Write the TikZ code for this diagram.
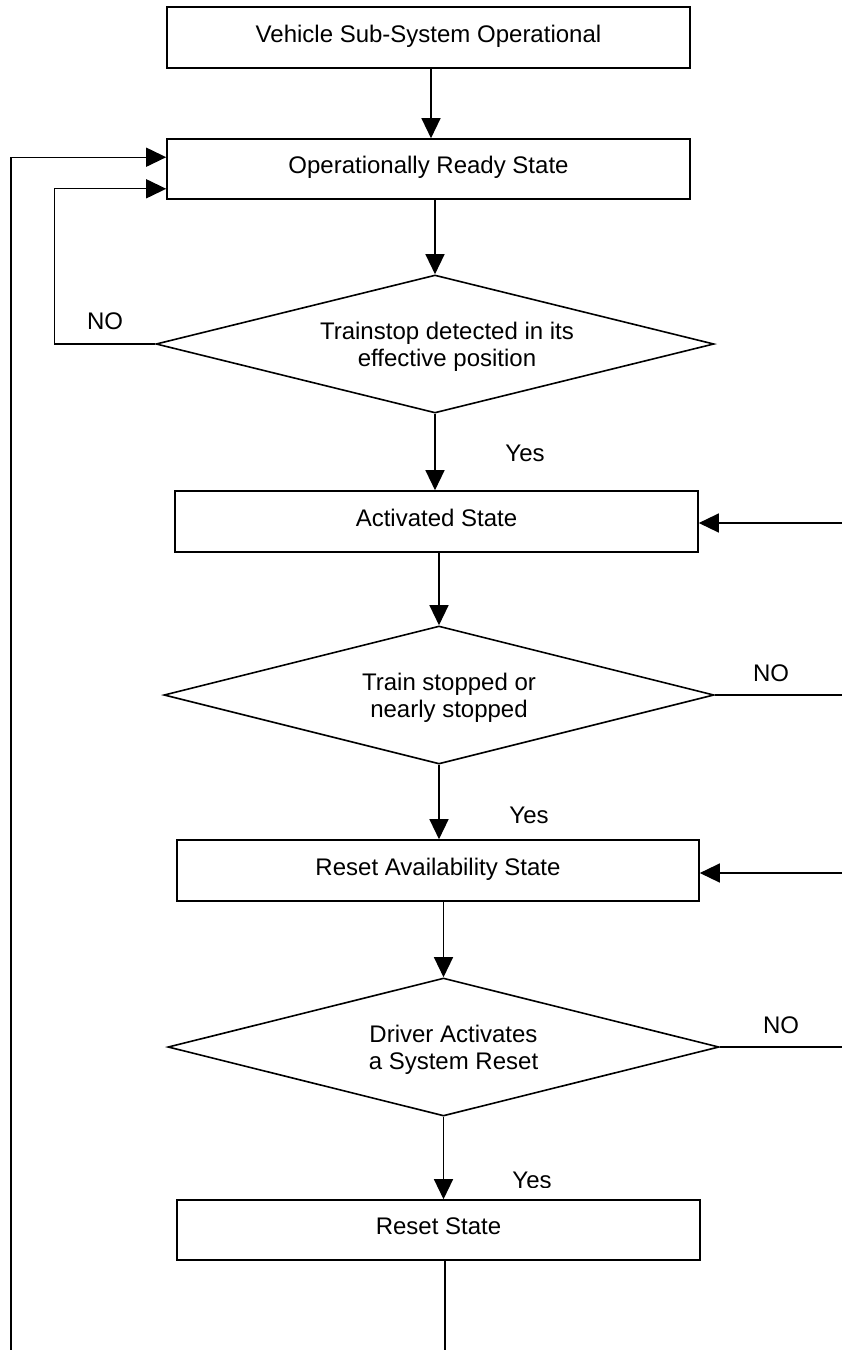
\documentclass[tikz,border=0pt]{standalone}
\usepackage{fontspec}
\setmainfont{Liberation Sans}
\usetikzlibrary{shapes.geometric,arrows.meta,calc}
\begin{document}
\begin{tikzpicture}[x=1pt,y=-1pt,
  every node/.style={font=\fontsize{24}{27}\selectfont},
  statebox/.style={draw, line width=1.6pt, minimum width=523pt, minimum height=60pt, inner sep=0pt, text height=17pt, text depth=8pt},
  decision/.style={draw, diamond, aspect=4, line width=1.6pt, minimum width=558pt, minimum height=138pt, inner sep=0pt},
  dtext/.style={inner sep=0pt, align=center},
  flow/.style={line width=1.3pt, -{Triangle[length=20pt,width=19pt]}},
  plain/.style={line width=1.6pt},
  lbl/.style={inner sep=0pt}]
\useasboundingbox (0,0) rectangle (842,1350);

\node[statebox, minimum height=61pt] (b1) at (428.5,37.5) {Vehicle Sub-System Operational};
\node[statebox] (b2) at (428.5,169) {Operationally Ready State};
\node[decision] (d1) at (435,344) {};
\node[dtext] (t1) at ($(d1.center)+(12,3)$) {Trainstop detected in its\\effective position};
\node[statebox, minimum height=61pt] (b3) at (436.5,521.5) {Activated State};
\node[decision, minimum width=550pt] (d2) at (439,695) {};
\node[dtext] (t2) at ($(d2.center)+(10,3)$) {Train stopped or\\nearly stopped};
\node[statebox, minimum width=522pt, minimum height=61pt] (b4) at (438,870.5) {Reset Availability State};
\node[decision, minimum width=551pt] (d3) at (443.5,1047) {};
\node[dtext] (t3) at ($(d3.center)+(10,3)$) {Driver Activates\\a System Reset};
\node[statebox] (b5) at (438.5,1230) {Reset State};

% labels
\node[lbl] (no1) at (105,321) {NO};
\node[lbl] (no2) at (771,673) {NO};
\node[lbl] (no3) at (781,1025) {NO};
\node[lbl] (yes1) at (525,453) {Yes};
\node[lbl] (yes2) at (529,815) {Yes};
\begin{scope}
  \clip (490,1150) rectangle (580,1187.5);
  \node[lbl] (yes3) at (532,1180) {Yes};
\end{scope}

% main flow
\draw[flow] ($(b1.south)+(2.5,0)$) -- ($(b2.north)+(2.5,0)$);
\draw[flow] ($(b2.south)+(6.5,0)$) -- (d1.north);
\draw[flow] (d1.south) -- (d1.south |- b3.north);
\draw[flow] (b3.south -| d2.north) -- (d2.north);
\draw[flow] (d2.south) -- (d2.south |- b4.north);
\draw[flow] (b4.south -| d3.north) -- (d3.north);
\draw[flow] (d3.south) -- (d3.south |- b5.north);
\coordinate (bot) at (445,1350);
\draw[line width=1.3pt] (b5.south -| bot) -- (bot);

% loops on the left
\coordinate (L1) at (11,1350);
\draw[flow] (L1) |- ($(b2.north west)+(0,19)$);
\draw[flow] (d1.west) -- ++(-101,0) |- ($(b2.south west)+(0,-11)$);

% right side
\coordinate (R1) at (842,523);
\coordinate (R2) at (842,873);
\draw[flow] (R1) -- (R1 -| b3.east);
\draw[flow] (R2) -- (R2 -| b4.east);
\coordinate (R3) at (842,695);
\coordinate (R4) at (842,1047);
\draw[plain] (d2.east) -- (R3);
\draw[plain] (d3.east) -- (R4);
\end{tikzpicture}
\end{document}
